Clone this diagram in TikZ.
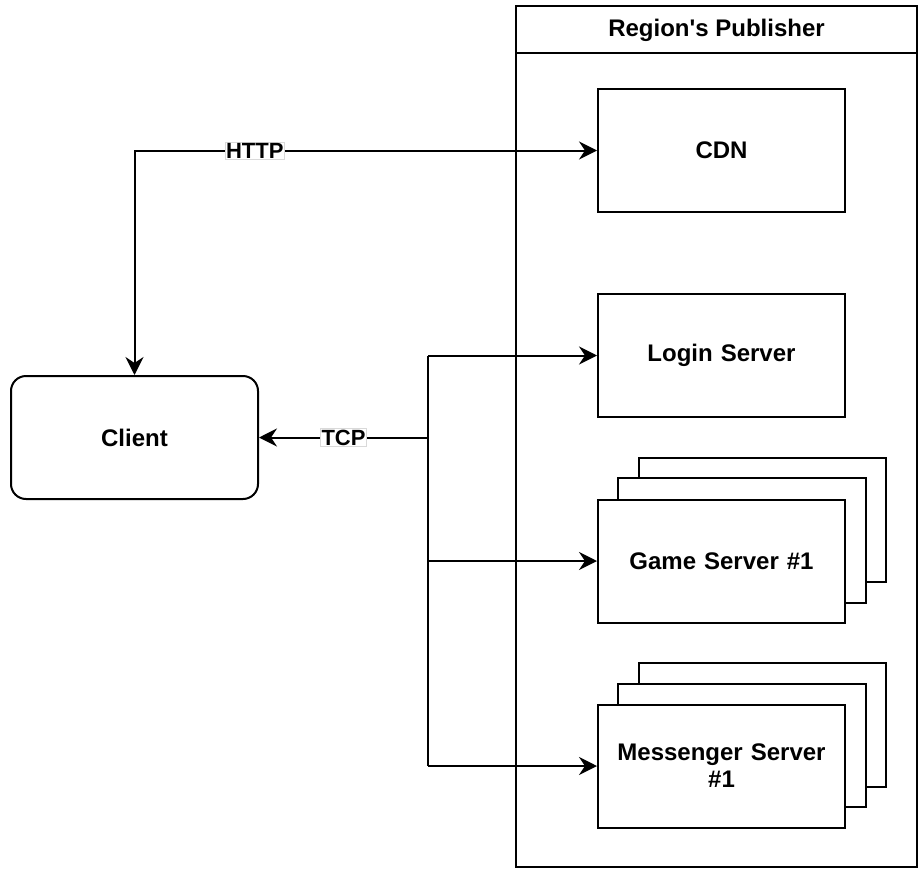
\documentclass[tikz,border=0pt]{standalone}
\usepackage{fontspec}
\setmainfont{Liberation Sans}
\usetikzlibrary{arrows.meta}
\begin{document}
\begin{tikzpicture}[x=1pt,y=-1pt,
  nodefont/.style={font=\fontsize{24}{27}\selectfont\bfseries},
  box/.style={draw, line width=2pt, fill=white, minimum width=247pt, minimum height=123pt, inner sep=0pt, nodefont, align=center, text width=225pt},
  backbox/.style={draw, line width=2pt, fill=white},
  conn/.style={draw, line width=2pt},
  lbl/.style={fill=white, draw=gray!30, line width=0.6pt, inner sep=1pt, font=\fontsize{22}{24}\selectfont\bfseries},
  arrowtip/.tip={Stealth[length=18pt,width=18pt,inset=6pt]},
  arr/.style={conn, -arrowtip},
  darr/.style={conn, arrowtip-arrowtip}
]
\useasboundingbox (0,0) rectangle (919,870);
% container
\node[draw, line width=2pt, minimum width=401pt, minimum height=861pt, inner sep=0pt] (pub) at (716.5,436.5) {};
\coordinate (tl) at (516,53);
\coordinate (tr) at (917,53);
\draw[conn] (tl) -- (tr);
\node[nodefont] (pubtitle) at (716.5,30) {Region\textquotesingle s Publisher};
% boxes
\node[box] (cdn) at (721.5,150.5) {CDN};
\node[box] (login) at (721.5,355.5) {Login Server};
\draw[backbox] (639,458) rectangle (886,582);
\draw[backbox] (618,478) rectangle (866,603);
\node[box] (game) at (721.5,561) {Game Server \#1};
\draw[backbox] (639,663) rectangle (886,787);
\draw[backbox] (618,684) rectangle (866,807);
\node[box] (msg) at (721.5,766) {Messenger Server\\\#1};
\node[box, rounded corners=15pt] (client) at (134.5,437.5) {Client};
% connectors
\draw[darr] (client.north) |- node[lbl, pos=0.63] {HTTP} (cdn.west);
\coordinate (j) at (428,437.5);
\coordinate (jl) at (428,355.5);
\coordinate (jg) at (428,561);
\coordinate (jm) at (428,766);
\draw[conn] (jl) -- (jm);
\draw[arr] (j) -- node[lbl] {TCP} (client.east);
\draw[arr] (jl) -- (login.west);
\draw[arr] (jg) -- (game.west);
\draw[arr] (jm) -- (msg.west);
\end{tikzpicture}
\end{document}
